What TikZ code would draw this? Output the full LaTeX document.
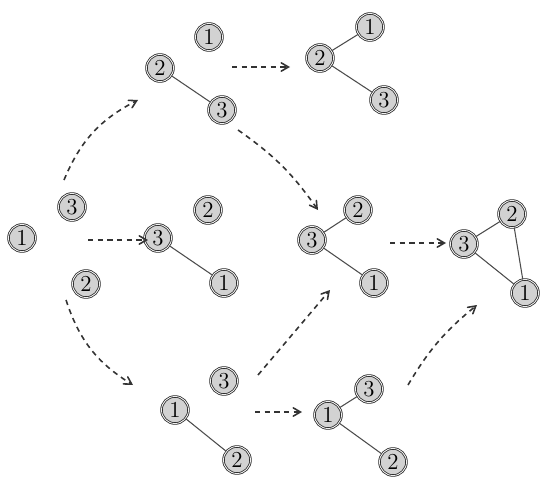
\documentclass[tikz,border=0pt]{standalone}
\usepackage{tikz}
\usetikzlibrary{arrows}
\tikzstyle{vertex}=[circle, draw=black!85, double=gray!12, double distance=0.5pt, fill=gray!35, line width=0.45pt, inner sep=0pt, minimum size=0.54cm, font=\fontsize{13}{15}\selectfont]
\tikzstyle{link}=[black!70, line width=0.6pt]
\tikzstyle{move}=[->, >=angle 60, dash pattern=on 3pt off 2.5pt, line width=0.9pt, black!80]

\begin{document}
\begin{tikzpicture}[x=0.02cm, y=0.02cm]
	\useasboundingbox (0,0) rectangle (548,481);
	% starting graph
	\node[vertex] (Aone) at (22,243) {1};
	\node[vertex] (Athree) at (72,274) {3};
	\node[vertex] (Atwo) at (86,197) {2};
	% first edges
	\node[vertex] (Btwo) at (160,413) {2};
	\node[vertex] (Bthree) at (222,371) {3};
	\node[vertex] (Bone) at (209,444) {1};
	\draw[link] (Btwo) -- (Bthree);
	\node[vertex] (Cthree) at (158,243) {3};
	\node[vertex] (Cone) at (224,198) {1};
	\node[vertex] (Ctwo) at (208,271) {2};
	\draw[link] (Cthree) -- (Cone);
	\node[vertex] (Dthree) at (224,100) {3};
	\node[vertex] (Done) at (175,71) {1};
	\node[vertex] (Dtwo) at (237,21) {2};
	\draw[link] (Done) -- (Dtwo);
	% second edges
	\node[vertex] (Eone) at (370,454) {1};
	\node[vertex] (Etwo) at (320,423) {2};
	\node[vertex] (Ethree) at (384,381) {3};
	\draw[link] (Etwo) -- (Eone);
	\draw[link] (Etwo) -- (Ethree);
	\node[vertex] (Ftwo) at (358,271) {2};
	\node[vertex] (Fthree) at (312,241) {3};
	\node[vertex] (Fone) at (374,198) {1};
	\draw[link] (Fthree) -- (Ftwo);
	\draw[link] (Fthree) -- (Fone);
	\node[vertex] (Gthree) at (369,92) {3};
	\node[vertex] (Gone) at (328,66) {1};
	\node[vertex] (Gtwo) at (393,19) {2};
	\draw[link] (Gone) -- (Gthree);
	\draw[link] (Gone) -- (Gtwo);
	% triangle
	\node[vertex] (Hthree) at (464,237) {3};
	\node[vertex] (Htwo) at (512,267) {2};
	\node[vertex] (Hone) at (525,188) {1};
	\draw[link] (Hthree) -- (Htwo) -- (Hone) -- (Hthree);
	% arrow ends
	\coordinate (AB) at (64,301);
	\coordinate (BA) at (138,381);
	\coordinate (AC) at (88,241);
	\coordinate (CA) at (148,241);
	\coordinate (AD) at (66,181);
	\coordinate (DA) at (133,96);
	\coordinate (BE) at (232,414);
	\coordinate (EB) at (290,414);
	\coordinate (BF) at (238,351);
	\coordinate (FB) at (318,271);
	\coordinate (DF) at (258,106);
	\coordinate (FD) at (330,191);
	\coordinate (DG) at (255,69);
	\coordinate (GD) at (302,69);
	\coordinate (FH) at (390,238);
	\coordinate (HF) at (446,238);
	\coordinate (GH) at (408,96);
	\coordinate (HG) at (477,176);
	\draw[move] (AB) to[bend left=20] (BA);
	\draw[move] (AC) -- (CA);
	\draw[move] (AD) to[bend right=20] (DA);
	\draw[move] (BE) -- (EB);
	\draw[move] (BF) to[bend left=10] (FB);
	\draw[move] (DF) -- (FD);
	\draw[move] (DG) -- (GD);
	\draw[move] (FH) -- (HF);
	\draw[move] (GH) to[bend left=10] (HG);
\end{tikzpicture}
\end{document}
